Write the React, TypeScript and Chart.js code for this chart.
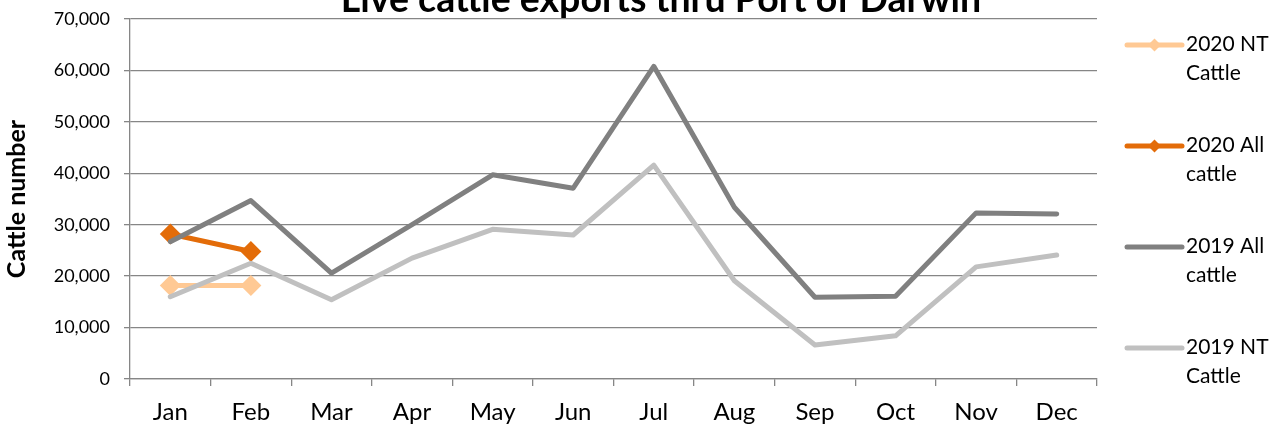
import React, { useEffect, useRef } from "react";
import { Chart, registerables } from "chart.js";

Chart.register(...registerables);

const TITLE = "Live cattle exports thru Port of Darwin";
const Y_TITLE = "Cattle number";
const months = ["Jan", "Feb", "Mar", "Apr", "May", "Jun", "Jul", "Aug", "Sep", "Oct", "Nov", "Dec"];

const nt2020: (number | null)[] = [18200, 18200, null, null, null, null, null, null, null, null, null, null];
const all2020: (number | null)[] = [28200, 24800, null, null, null, null, null, null, null, null, null, null];
const all2019: number[] = [26700, 34700, 20600, 30000, 39700, 37100, 60800, 33400, 15900, 16100, 32300, 32100];
const nt2019: number[] = [16000, 22500, 15400, 23500, 29100, 28000, 41600, 19100, 6600, 8400, 21800, 24100];

const seriesLabels = ["2020 NT Cattle", "2020 All cattle", "2019 All cattle", "2019 NT Cattle"];
const legendLines = [["2020 NT", "Cattle"], ["2020 All", "cattle"], ["2019 All", "cattle"], ["2019 NT", "Cattle"]];
const colors = ["#FFC994", "#E36C09", "#808080", "#C0C0C0"];

const Y_MIN = 0;
const Y_MAX = 70000;
const Y_STEP = 10000;

const FONT = "Lato, 'Noto Sans', sans-serif";
const GRID = "#868686";

const titlePlugin = {
  id: "topTitle",
  afterDraw(chart: any) {
    const ctx = chart.ctx;
    ctx.save();
    ctx.font = `bold 37.5px ${FONT}`;
    ctx.fillStyle = "#000";
    ctx.textAlign = "center";
    ctx.textBaseline = "alphabetic";
    ctx.fillText(TITLE, 661, 12);
    ctx.restore();
  },
};

const legendPlugin = {
  id: "sideLegend",
  afterDraw(chart: any) {
    const ctx = chart.ctx;
    const x0 = 1127;
    const x1 = 1182;
    const tx = 1186;
    ctx.save();
    chart.data.datasets.forEach((ds: any, i: number) => {
      const y = 45 + i * 101;
      ctx.strokeStyle = ds.borderColor;
      ctx.lineWidth = 5;
      ctx.lineCap = "round";
      ctx.beginPath();
      ctx.moveTo(x0, y);
      ctx.lineTo(x1, y);
      ctx.stroke();
      if (ds.pointRadius > 0) {
        const cx = (x0 + x1) / 2;
        const r = 6.5;
        ctx.fillStyle = ds.borderColor;
        ctx.beginPath();
        ctx.moveTo(cx, y - r);
        ctx.lineTo(cx + r, y);
        ctx.lineTo(cx, y + r);
        ctx.lineTo(cx - r, y);
        ctx.closePath();
        ctx.fill();
      }
      ctx.fillStyle = "#000";
      ctx.font = `21px ${FONT}`;
      ctx.textAlign = "left";
      ctx.textBaseline = "middle";
      legendLines[i].forEach((line, j) => {
        ctx.fillText(line, tx, y - 1 + j * 29);
      });
    });
    ctx.restore();
  },
};

export default function App() {
  const ref = useRef<HTMLCanvasElement | null>(null);

  useEffect(() => {
    document.body.style.margin = "0";
    if (!ref.current) return;
    const mk = (i: number, data: (number | null)[], markers: boolean, order: number) => ({
      label: seriesLabels[i],
      data,
      borderColor: colors[i],
      backgroundColor: colors[i],
      borderWidth: 5,
      borderCapStyle: "round" as const,
      borderJoinStyle: "round" as const,
      pointStyle: "rectRot" as const,
      pointRadius: markers ? 10.5 : 0,
      pointHoverRadius: markers ? 10.5 : 0,
      pointBorderWidth: 0,
      pointBackgroundColor: colors[i],
      tension: 0,
      spanGaps: false,
      order,
    });
    const chart = new Chart(ref.current, {
      type: "line",
      data: {
        labels: months,
        datasets: [
          mk(0, nt2020, true, 4),
          mk(1, all2020, true, 3),
          mk(2, all2019, false, 2),
          mk(3, nt2019, false, 1),
        ],
      },
      plugins: [titlePlugin, legendPlugin],
      options: {
        animation: false,
        responsive: true,
        maintainAspectRatio: false,
        layout: { padding: { top: 19, right: 177, bottom: 0, left: 0 } },
        plugins: {
          legend: { display: false },
          title: { display: false },
          tooltip: { enabled: false },
        },
        scales: {
          x: {
            offset: true,
            grid: { offset: true, drawOnChartArea: false, color: GRID, lineWidth: 1.3, tickLength: 7 },
            border: { display: true, color: GRID, width: 1.3 },
            ticks: { color: "#000", font: { family: FONT, size: 24 }, padding: 12, maxRotation: 0 },
            afterFit: (s: any) => {
              s.height = 49;
              s.paddingLeft = 0;
              s.paddingRight = 0;
            },
          },
          y: {
            min: Y_MIN,
            max: Y_MAX,
            grid: { color: GRID, lineWidth: 1.3, tickLength: 6 },
            border: { display: true, color: GRID, width: 1.3 },
            ticks: {
              stepSize: Y_STEP,
              color: "#000",
              font: { family: FONT, size: 18 },
              padding: 14,
              callback: (v: any) => Number(v).toLocaleString("en-US"),
            },
            title: {
              display: true,
              text: Y_TITLE,
              color: "#000",
              font: { family: FONT, size: 25, weight: "bold" },
              padding: { top: 2, bottom: 0 },
            },
            afterFit: (s: any) => {
              s.width = 130;
              s.paddingTop = 0;
              s.paddingBottom = 0;
            },
          },
        },
      },
    });
    return () => chart.destroy();
  }, []);

  return (
    <div style={{ position: "relative", width: 1274, height: 428 }}>
      <canvas ref={ref} />
    </div>
  );
}
